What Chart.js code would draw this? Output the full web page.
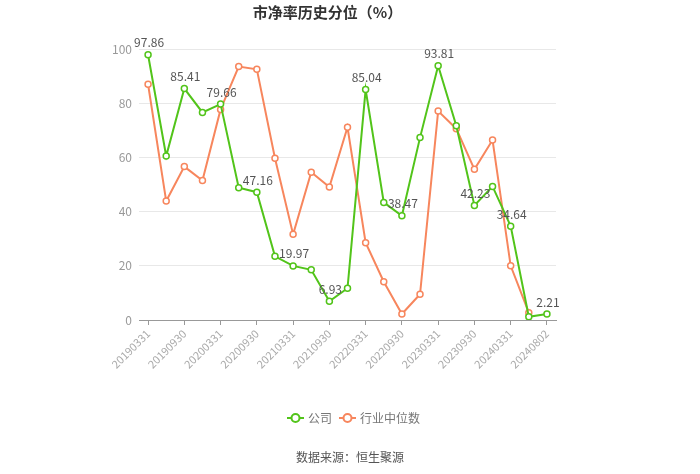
<!DOCTYPE html>
<html>
<head>
<meta charset="utf-8">
<script src="https://cdn.jsdelivr.net/npm/chart.js@4.4.3/dist/chart.umd.min.js"></script>
<style>
    html, body { margin: 0; padding: 0; background: #ffffff; }
    #wrap { width: 700px; height: 474px; }
</style>
</head>
<body>
<div id="wrap"><canvas id="pbChart" width="700" height="474"></canvas></div>
<script>
    // quarter ends, plus the latest date
    const dates = [
        '20190331', '20190630', '20190930', '20191231',
        '20200331', '20200630', '20200930', '20201231',
        '20210331', '20210630', '20210930', '20211231',
        '20220331', '20220630', '20220930', '20221231',
        '20230331', '20230630', '20230930', '20231231',
        '20240331', '20240630', '20240802'
    ];

    const companyPct = [
        97.86, 60.5, 85.41, 76.6,
        79.66, 48.8, 47.16, 23.5,
        19.97, 18.5, 6.93, 11.7,
        85.04, 43.4, 38.47, 67.3,
        93.81, 71.7, 42.23, 49.3,
        34.64, 1.2, 2.21
    ];

    const industryPct = [
        87.0, 43.9, 56.6, 51.5,
        77.7, 93.5, 92.5, 59.7,
        31.6, 54.5, 49.1, 71.1,
        28.5, 14.1, 2.2, 9.5,
        77.1, 70.6, 55.6, 66.4,
        20.0, 2.7, null
    ];

    const yTicks = [0, 20, 40, 60, 80, 100];

    const GREEN = '#52c41a';
    const ORANGE = '#f7865d';
    const FONT = '"Noto Sans CJK SC", "Noto Sans", sans-serif';

    // value labels over every other company point
    const valueLabels = {
        id: 'valueLabels',
        afterDatasetsDraw(chart) {
            const ctx = chart.ctx;
            const meta = chart.getDatasetMeta(0);
            ctx.save();
            ctx.font = '12px ' + FONT;
            ctx.fillStyle = '#555555';
            ctx.textAlign = 'center';
            ctx.textBaseline = 'bottom';
            meta.data.forEach((pt, i) => {
                if (i % 2 !== 0) return;
                ctx.fillText(companyPct[i].toFixed(2), pt.x + 1, pt.y - 6);
            });
            ctx.restore();
        }
    };

    // legend row and source note under the chart
    const footer = {
        id: 'footer',
        afterDraw(chart) {
            const ctx = chart.ctx;
            const y = 418;
            const items = [
                { x: 287, color: GREEN, text: '公司' },
                { x: 339, color: ORANGE, text: '行业中位数' }
            ];
            ctx.save();
            items.forEach((it) => {
                ctx.strokeStyle = it.color;
                ctx.lineWidth = 2;
                ctx.beginPath();
                ctx.moveTo(it.x, y);
                ctx.lineTo(it.x + 17, y);
                ctx.stroke();
                ctx.beginPath();
                ctx.arc(it.x + 8.5, y, 4, 0, Math.PI * 2);
                ctx.fillStyle = '#ffffff';
                ctx.fill();
                ctx.stroke();
                ctx.font = '12px ' + FONT;
                ctx.fillStyle = '#777777';
                ctx.textAlign = 'left';
                ctx.textBaseline = 'middle';
                ctx.fillText(it.text, it.x + 21, y);
            });
            ctx.font = '12px ' + FONT;
            ctx.fillStyle = '#555555';
            ctx.textAlign = 'center';
            ctx.fillText('数据来源：恒生聚源', 350, 457);
            ctx.restore();
        }
    };

    const lineStyle = (color) => ({
        borderColor: color,
        backgroundColor: '#ffffff',
        borderWidth: 2,
        pointRadius: 3,
        pointBorderWidth: 1.5,
        pointBackgroundColor: '#ffffff',
        pointBorderColor: color,
        tension: 0,
        spanGaps: false
    });

    // eslint-disable-next-line no-undef
    new Chart(document.getElementById('pbChart'), {
        type: 'line',
        data: {
            labels: dates,
            datasets: [
                Object.assign({ label: '公司', data: companyPct }, lineStyle(GREEN)),
                Object.assign({ label: '行业中位数', data: industryPct }, lineStyle(ORANGE))
            ]
        },
        options: {
            responsive: false,
            animation: false,
            devicePixelRatio: 1,
            layout: { padding: { left: 99, right: 144, top: 0, bottom: 100 } },
            plugins: {
                legend: { display: false },
                tooltip: { enabled: false },
                title: {
                    display: true,
                    text: '市净率历史分位（%）',
                    color: '#333333',
                    font: { family: FONT, size: 15, weight: 'bold' },
                    padding: { top: 3, bottom: 28 }
                }
            },
            scales: {
                x: {
                    offset: true,
                    afterFit: (scale) => { scale.height = 54; },
                    grid: {
                        drawOnChartArea: false,
                        drawTicks: true,
                        tickLength: 5,
                        color: '#999999'
                    },
                    border: { display: true, color: '#999999' },
                    ticks: {
                        autoSkip: false,
                        maxRotation: 45,
                        minRotation: 45,
                        padding: 2,
                        color: '#aaaaaa',
                        font: { family: FONT, size: 11 },
                        callback: (value, index) => (index % 2 === 0 ? dates[index] : null)
                    }
                },
                y: {
                    min: 0,
                    max: 100,
                    afterFit: (scale) => { scale.width = 40; },
                    afterBuildTicks: (scale) => { scale.ticks = yTicks.map((v) => ({ value: v })); },
                    grid: { color: '#e8e8e8', drawTicks: false },
                    border: { display: false },
                    ticks: {
                        padding: 7,
                        color: '#999999',
                        font: { family: FONT, size: 12 }
                    }
                }
            }
        },
        plugins: [valueLabels, footer]
    });
</script>
</body>
</html>
